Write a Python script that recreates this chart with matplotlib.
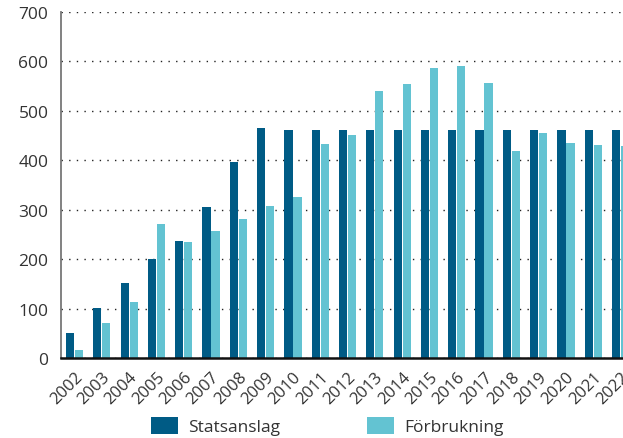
import matplotlib
matplotlib.use("Agg")
import matplotlib.pyplot as plt
import matplotlib.transforms as mtransforms
import numpy as np

years = [str(y) for y in range(2002, 2023)]
statsanslag = [51, 101, 152, 200, 237, 306, 397, 466, 462, 462, 462, 462,
               462, 462, 462, 462, 462, 462, 462, 462, 462]
forbrukning = [16, 71, 113, 271, 235, 257, 281, 308, 326, 433, 451, 540,
               555, 587, 591, 557, 419, 455, 435, 431, 429]
yticks = [0, 100, 200, 300, 400, 500, 600, 700]
labels = ["Statsanslag", "Förbrukning"]

dark = "#005B85"
light = "#63C3D2"
txt = "#333333"

plt.rcParams['font.family'] = ['Open Sans', 'DejaVu Sans']

fig = plt.figure(figsize=(6.23, 4.39), dpi=100)
W, H = 623, 439
ax = fig.add_axes([61 / W, (H - 359) / H, (W - 61) / W, (359 - 13) / H])

x = np.arange(len(years))
w = 0.3
b1 = ax.bar(x - 0.165, statsanslag, width=w, color=dark, zorder=3, label=labels[0])
b2 = ax.bar(x + 0.165, forbrukning, width=w, color=light, zorder=3, label=labels[1])

ax.set_xlim(-0.495, 20.09)
ax.set_ylim(0, 700)
ax.set_yticks(yticks)
ax.set_yticklabels([str(v) for v in yticks], fontsize=12.5, color=txt)
ax.yaxis.grid(True, linestyle=(0, (1, 4.5)), color="#222222", linewidth=1.0, zorder=0)
ax.set_axisbelow(True)

ax.set_xticks(x)
ax.set_xticklabels(years, rotation=45, ha='right', rotation_mode='anchor',
                   fontsize=12, color=txt)
offset = mtransforms.ScaledTranslation(4 / 100, 0, fig.dpi_scale_trans)
for lab in ax.get_xticklabels():
    lab.set_transform(lab.get_transform() + offset)

ax.tick_params(axis='both', length=0)
ax.tick_params(axis='y', pad=9)
ax.tick_params(axis='x', pad=7.5)

for s in ['top', 'right']:
    ax.spines[s].set_visible(False)
ax.spines['left'].set_color('#777777')
ax.spines['left'].set_linewidth(1.3)
ax.spines['bottom'].set_color('#111111')
ax.spines['bottom'].set_linewidth(1.8)
ax.spines['bottom'].set_zorder(4)

fig.legend(handles=[b1, b2], labels=labels, ncol=2, loc='center',
           bbox_to_anchor=(327.5 / W, 12 / H), frameon=False, fontsize=12.5,
           handlelength=1.55, handleheight=1.1, handletextpad=0.6,
           columnspacing=5.0, labelcolor=txt, borderaxespad=0, borderpad=0)

fig.savefig("out.png", dpi=100)
